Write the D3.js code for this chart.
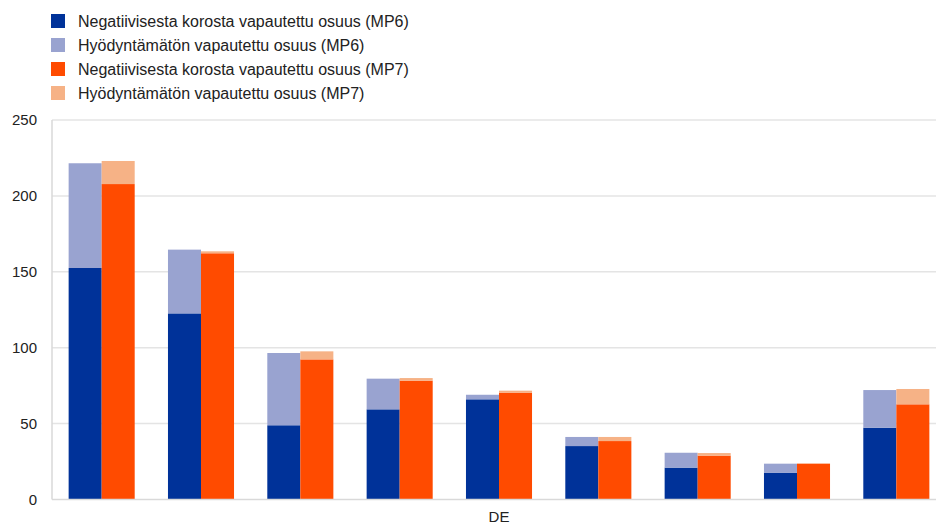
<!DOCTYPE html>
<html>
<head>
<meta charset="utf-8">
<script src="https://cdn.jsdelivr.net/npm/d3@7"></script>
<style>
  body { margin: 0; background: #fff; }
  svg { display: block; font-family: "Liberation Sans", Arial, sans-serif; }
</style>
</head>
<body>
<div id="chart"></div>
<script>
// Category labels (only one is printed in the source chart)
const tickLabels = ["", "", "", "", "DE", "", "", "", ""];

// MP6 stack
const mp6Negative = [152.5, 122.6, 48.9, 59.4, 66.0, 35.2, 21.0, 17.7, 47.3];
const mp6Unused   = [69.0, 42.0, 47.6, 20.2, 3.0, 6.0, 9.8, 5.9, 24.8];
// MP7 stack
const mp7Negative = [207.8, 162.2, 92.3, 78.3, 70.4, 38.5, 28.9, 23.6, 62.7];
const mp7Unused   = [15.2, 1.3, 5.3, 1.7, 1.3, 2.7, 1.7, 0.2, 10.1];

const legendLabels = [
  "Negatiivisesta korosta vapautettu osuus (MP6)",
  "Hyödyntämätön vapautettu osuus (MP6)",
  "Negatiivisesta korosta vapautettu osuus (MP7)",
  "Hyödyntämätön vapautettu osuus (MP7)"
];
const yTicks = [0, 50, 100, 150, 200, 250];

const colors = ["#003299", "#99a3d0", "#ff4b00", "#f6b286"];

const width = 936, height = 524;
const margin = { top: 120, right: -10, bottom: 24, left: 52 };

const svg = d3.select("#chart").append("svg")
  .attr("width", width)
  .attr("height", height);

const idx = d3.range(tickLabels.length);

const x = d3.scaleBand()
  .domain(idx)
  .range([margin.left, width - margin.right])
  .paddingInner(0.335)
  .paddingOuter(0.1675);

const y = d3.scaleLinear()
  .domain([0, 250])
  .range([height - margin.bottom - 0.5, margin.top]);

// gridlines
svg.append("g")
  .selectAll("line")
  .data(yTicks.filter(d => d > 0))
  .join("line")
  .attr("x1", margin.left)
  .attr("x2", width)
  .attr("y1", d => y(d))
  .attr("y2", d => y(d))
  .attr("stroke", "#e4e4e4")
  .attr("stroke-width", 1.5);

// y tick labels
svg.append("g")
  .selectAll("text")
  .data(yTicks)
  .join("text")
  .attr("x", 37)
  .attr("y", d => y(d))
  .attr("dy", "0.35em")
  .attr("text-anchor", "end")
  .style("font-size", "15px")
  .style("fill", "#222")
  .text(d => d);

// bars
const half = x.bandwidth() / 2;
const series = [
  { neg: mp6Negative, un: mp6Unused, off: 0, c: [colors[0], colors[1]] },
  { neg: mp7Negative, un: mp7Unused, off: half, c: [colors[2], colors[3]] }
];

series.forEach(s => {
  const g = svg.append("g");
  g.selectAll("rect.neg")
    .data(idx)
    .join("rect")
    .attr("class", "neg")
    .attr("x", i => x(i) + s.off)
    .attr("width", half)
    .attr("y", i => y(s.neg[i]))
    .attr("height", i => y(0) - y(s.neg[i]))
    .attr("fill", s.c[0]);
  g.selectAll("rect.un")
    .data(idx)
    .join("rect")
    .attr("class", "un")
    .attr("x", i => x(i) + s.off)
    .attr("width", half)
    .attr("y", i => y(s.neg[i] + s.un[i]))
    .attr("height", i => y(s.neg[i]) - y(s.neg[i] + s.un[i]))
    .attr("fill", s.c[1]);
});

// axes lines
svg.append("line")
  .attr("x1", margin.left).attr("x2", margin.left)
  .attr("y1", y(250)).attr("y2", y(0))
  .attr("stroke", "#d9d9d9").attr("stroke-width", 1.5);
svg.append("line")
  .attr("x1", margin.left).attr("x2", width)
  .attr("y1", y(0)).attr("y2", y(0))
  .attr("stroke", "#d9d9d9").attr("stroke-width", 1.5);

// x labels
svg.append("g")
  .selectAll("text")
  .data(idx)
  .join("text")
  .attr("x", i => x(i) + half)
  .attr("y", 522)
  .attr("text-anchor", "middle")
  .style("font-size", "15px")
  .style("fill", "#222")
  .text(i => tickLabels[i]);

// legend
const legend = svg.append("g")
  .selectAll("g")
  .data(legendLabels)
  .join("g")
  .attr("transform", (d, i) => `translate(51, ${21 + i * 24})`);

legend.append("rect")
  .attr("x", 0).attr("y", -7)
  .attr("width", 14).attr("height", 14)
  .attr("fill", (d, i) => colors[i]);

legend.append("text")
  .attr("x", 27)
  .attr("dy", "0.35em")
  .style("font-size", "16px")
  .style("fill", "#222")
  .text(d => d);
</script>
</body>
</html>
